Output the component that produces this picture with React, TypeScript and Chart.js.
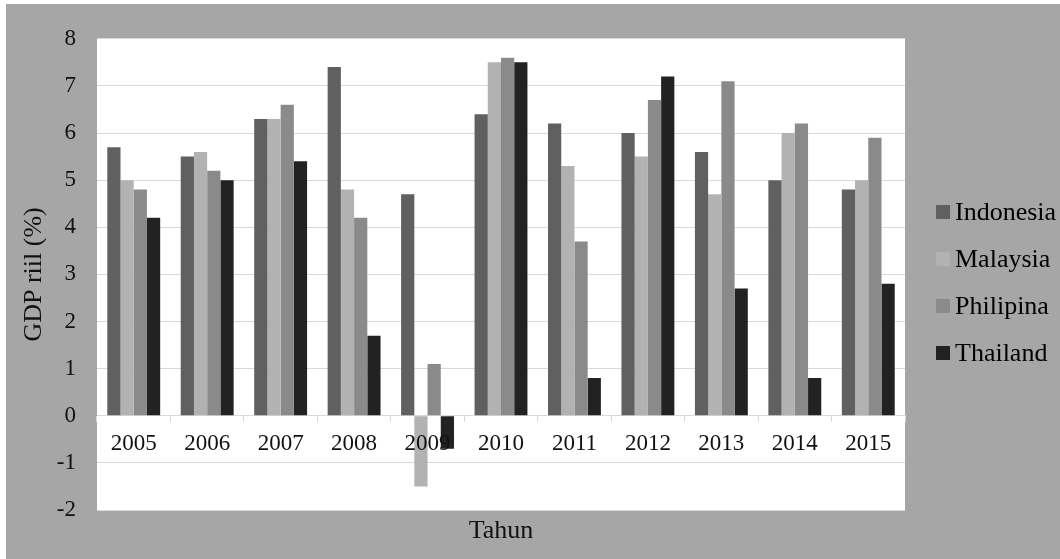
import React, { useEffect, useRef } from "react";
import { Chart, registerables } from "chart.js";

Chart.register(...registerables);

const categories = ["2005", "2006", "2007", "2008", "2009", "2010", "2011", "2012", "2013", "2014", "2015"];
const seriesNames = ["Indonesia", "Malaysia", "Philipina", "Thailand"];
const indonesia = [5.7, 5.5, 6.3, 7.4, 4.7, 6.4, 6.2, 6.0, 5.6, 5.0, 4.8];
const malaysia = [5.0, 5.6, 6.3, 4.8, -1.5, 7.5, 5.3, 5.5, 4.7, 6.0, 5.0];
const philipina = [4.8, 5.2, 6.6, 4.2, 1.1, 7.6, 3.7, 6.7, 7.1, 6.2, 5.9];
const thailand = [4.2, 5.0, 5.4, 1.7, -0.7, 7.5, 0.8, 7.2, 2.7, 0.8, 2.8];
const seriesColors = ["#606060", "#b2b2b2", "#8a8a8a", "#222222"];
const yMin = -2;
const yMax = 8;
const yTitle = "GDP riil (%)";
const xTitle = "Tahun";

const FONT = "'Liberation Serif', 'Times New Roman', serif";

const bgPlugin = {
  id: "bgPlugin",
  beforeDraw(chart: any) {
    const { ctx, chartArea, width, height } = chart;
    ctx.save();
    ctx.fillStyle = "#a6a6a6";
    ctx.fillRect(0, 0, width, height);
    ctx.fillStyle = "#ffffff";
    ctx.fillRect(chartArea.left, chartArea.top, chartArea.right - chartArea.left, chartArea.bottom - chartArea.top);
    ctx.restore();
  },
};

const legendPlugin = {
  id: "customLegend",
  afterDraw(chart: any) {
    const { ctx } = chart;
    const boxX = 930;
    const textX = 949;
    const startY = 208;
    const step = 47;
    const box = 14;
    ctx.save();
    ctx.font = `26px ${FONT}`;
    ctx.textBaseline = "middle";
    ctx.textAlign = "left";
    chart.data.datasets.forEach((ds: any, i: number) => {
      const y = startY + i * step;
      ctx.fillStyle = ds.backgroundColor;
      ctx.fillRect(boxX, y - box / 2, box, box);
      ctx.fillStyle = "#000000";
      ctx.fillText(ds.label, textX, y + 1);
    });
    ctx.restore();
  },
};

export default function App() {
  const canvasRef = useRef<HTMLCanvasElement | null>(null);

  useEffect(() => {
    document.body.style.margin = "0";
    const canvas = canvasRef.current;
    if (!canvas) return;
    const values = [indonesia, malaysia, philipina, thailand];
    const chart = new Chart(canvas, {
      type: "bar",
      data: {
        labels: categories,
        datasets: seriesNames.map((name, i) => ({
          label: name,
          data: values[i],
          backgroundColor: seriesColors[i],
          borderWidth: 0,
          categoryPercentage: 0.72,
          barPercentage: 1.0,
          xAxisID: "x",
          yAxisID: "y",
        })),
      },
      options: {
        animation: false,
        responsive: true,
        maintainAspectRatio: false,
        devicePixelRatio: 1,
        layout: { padding: { top: 32, right: 155, left: 0, bottom: 0 } },
        plugins: {
          legend: { display: false },
          tooltip: { enabled: false },
        },
        scales: {
          x: {
            type: "category",
            position: { y: 0 } as any,
            offset: true,
            grid: {
              display: true,
              drawOnChartArea: false,
              drawTicks: true,
              tickLength: 6,
              color: "#d9d9d9",
              offset: true,
            },
            border: { display: true, color: "#d9d9d9", width: 1 },
            ticks: {
              z: 1,
              padding: 8,
              color: "#111111",
              font: { family: FONT, size: 23 },
              maxRotation: 0,
              autoSkip: false,
            },
          },
          x2: {
            type: "category",
            position: "bottom",
            labels: categories,
            grid: { display: false },
            border: { display: false },
            ticks: { display: false },
            title: {
              display: true,
              text: xTitle,
              color: "#111111",
              font: { family: FONT, size: 26 },
              padding: { top: 0, bottom: 12 },
            },
            afterFit: (s: any) => {
              s.height = 49;
            },
          },
          y: {
            type: "linear",
            position: "left",
            min: yMin,
            max: yMax,
            ticks: {
              stepSize: 1,
              padding: 21,
              color: "#111111",
              font: { family: FONT, size: 23 },
            },
            grid: {
              color: "#d9d9d9",
              lineWidth: 1,
              drawTicks: false,
            },
            border: { display: false },
            title: {
              display: true,
              text: yTitle,
              color: "#111111",
              font: { family: FONT, size: 26 },
              padding: { top: 13, bottom: 0 },
            },
            afterFit: (s: any) => {
              s.width = 91;
            },
          },
        },
      },
      plugins: [bgPlugin, legendPlugin],
    });
    return () => chart.destroy();
  }, []);

  return (
    <div style={{ width: 1060, height: 559, background: "#ffffff", position: "relative" }}>
      <div style={{ position: "absolute", left: 6, top: 4, width: 1054, height: 555 }}>
        <canvas ref={canvasRef} />
      </div>
    </div>
  );
}
